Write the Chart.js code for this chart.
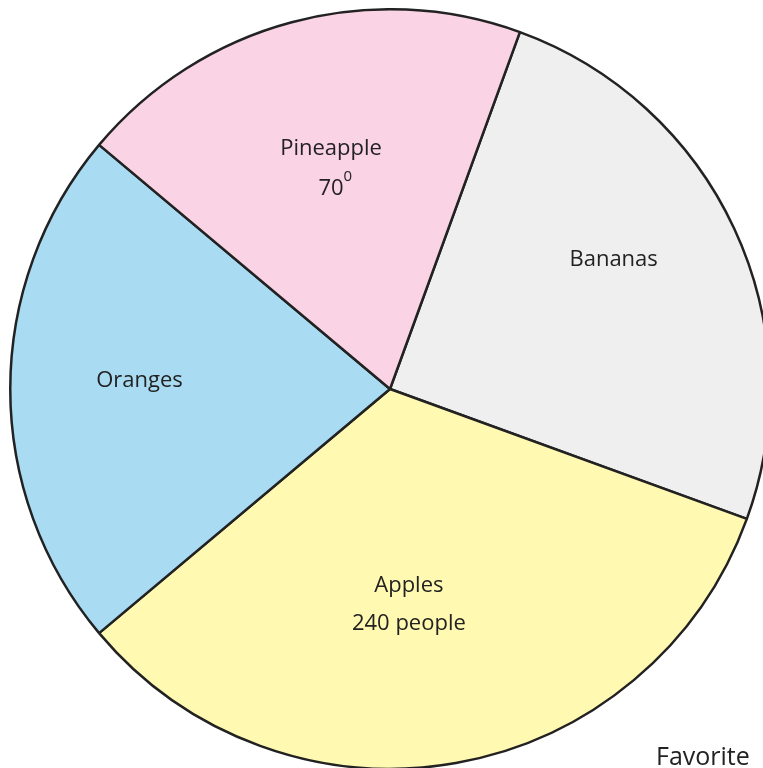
<!DOCTYPE html>
<html>
<head>
<meta charset="utf-8">
<script src="https://cdn.jsdelivr.net/npm/chart.js@4"></script>
<style>
  html, body { margin: 0; padding: 0; background: #fff; overflow: hidden; width: 763px; height: 768px; }
  #wrap { position: absolute; left: 9px; top: 8px; width: 762px; height: 762px; }
  #titulo { position: absolute; left: 656px; top: 738px; font: 25px "Open Sans", sans-serif; color: #222; }
</style>
</head>
<body>
<div id="wrap"><canvas id="chartFrutas"></canvas></div>
<div id="titulo">Favorite</div>
<script>
// datos (personas, 2 por grado)
let frutas = ["Bananas", "Apples", "Oranges", "Pineapple"];
let personas = [180, 240, 160, 140];
let etiquetas = [["Bananas"], ["Apples", "240 people"], ["Oranges"], ["Pineapple", "70", "0"]];
let colores = ["#EFEFEF", "#FFF9B1", "#A9DCF2", "#FAD3E4"];

// posicion de la etiqueta: fraccion del radio y giro en grados
let distEtiqueta = [0.68, 0.57, 0.66, 0.60];
let giroEtiqueta = [-5, 5, 2, 0];

const etiquetasPlugin = {
    id: 'etiquetas',
    afterDatasetsDraw(chart) {
        const ctx = chart.ctx;
        const meta = chart.getDatasetMeta(0);
        ctx.save();
        ctx.fillStyle = '#222';
        ctx.textAlign = 'center';
        ctx.textBaseline = 'middle';
        meta.data.forEach(function(arc, i) {
            const p = arc.getProps(['x', 'y', 'startAngle', 'endAngle', 'outerRadius']);
            const mid = (p.startAngle + p.endAngle) / 2 + giroEtiqueta[i] * Math.PI / 180;
            const d = p.outerRadius * distEtiqueta[i];
            const x = p.x + Math.cos(mid) * d;
            const y = p.y + Math.sin(mid) * d;
            const lineas = etiquetas[i];
            ctx.font = '22px "Open Sans", sans-serif';
            if (lineas.length == 1) {
                ctx.fillText(lineas[0], x, y);
            } else if (lineas.length == 2) {
                ctx.fillText(lineas[0], x, y - 19);
                ctx.fillText(lineas[1], x, y + 19);
            } else {
                // texto con superindice (grados)
                ctx.fillText(lineas[0], x, y - 20);
                const w = ctx.measureText(lineas[1]).width;
                ctx.fillText(lineas[1], x, y + 20);
                ctx.font = '15px "Open Sans", sans-serif';
                ctx.textAlign = 'left';
                ctx.fillText(lineas[2], x + w / 2, y + 8);
                ctx.textAlign = 'center';
            }
        });
        ctx.restore();
    }
};

new Chart(document.getElementById('chartFrutas'), {
    type: 'pie',
    data: {
        labels: frutas,
        datasets: [{
            data: personas,
            backgroundColor: colores,
            borderColor: '#222',
            borderWidth: 2.5,
            hoverOffset: 0
        }]
    },
    options: {
        responsive: true,
        maintainAspectRatio: false,
        animation: false,
        rotation: 20,
        layout: { padding: 0 },
        plugins: {
            legend: { display: false },
            tooltip: { enabled: false }
        }
    },
    plugins: [etiquetasPlugin]
});
</script>
</body>
</html>
